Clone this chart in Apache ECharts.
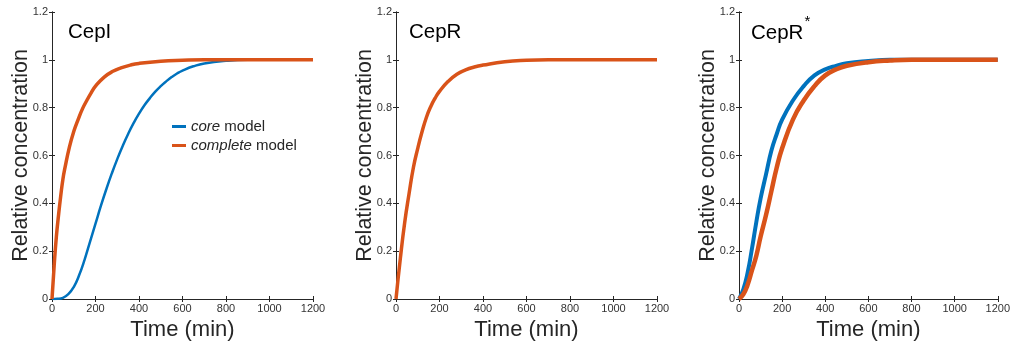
<!DOCTYPE html>
<html>
<head>
<meta charset="utf-8">
<script src="https://cdn.jsdelivr.net/npm/echarts@6/dist/echarts.min.js"></script>
<style>html,body{margin:0;padding:0;background:#fff;}#c{width:1013px;height:346px;}</style>
</head>
<body>
<div id="c"></div>
<script>
// ---- data ----
const panelTitles = ['CepI', 'CepR', 'CepR*'];
const xTicks = [0, 200, 400, 600, 800, 1000, 1200];
const yTicks = [0, 0.2, 0.4, 0.6, 0.8, 1, 1.2];

// Panel 1: CepI
const cepI_core_t = [0, 25, 50, 75, 100, 125, 150, 175, 200, 225, 250, 275, 300, 325, 350, 375, 400, 425, 450, 475, 500, 525, 550, 575, 600, 650, 700, 800, 900, 1200];
const cepI_core_v = [0, 0.001, 0.005, 0.02, 0.05, 0.10, 0.165, 0.24, 0.315, 0.39, 0.46, 0.525, 0.585, 0.64, 0.69, 0.735, 0.775, 0.81, 0.84, 0.867, 0.89, 0.91, 0.928, 0.943, 0.955, 0.973, 0.985, 0.996, 1, 1];
const cepI_complete_t = [0, 10, 20, 30, 40, 50, 60, 80, 100, 120, 140, 160, 180, 200, 240, 280, 320, 360, 400, 500, 600, 700, 1200];
const cepI_complete_v = [0, 0.14, 0.26, 0.35, 0.43, 0.50, 0.55, 0.635, 0.70, 0.75, 0.795, 0.83, 0.862, 0.89, 0.928, 0.952, 0.967, 0.978, 0.985, 0.994, 0.998, 1, 1];

// Panel 2: CepR (core and complete coincide)
const cepR_t = [0, 20, 40, 60, 80, 100, 120, 140, 160, 180, 200, 240, 280, 320, 360, 400, 500, 600, 700, 1200];
const cepR_v = [0, 0.17, 0.32, 0.44, 0.55, 0.63, 0.70, 0.76, 0.805, 0.84, 0.868, 0.91, 0.94, 0.958, 0.97, 0.978, 0.992, 0.998, 1, 1];

// Panel 3: CepR*
const cepRs_core_t = [0, 20, 40, 60, 80, 100, 125, 150, 175, 200, 250, 300, 350, 400, 450, 500, 600, 700, 1200];
const cepRs_core_v = [0, 0.04, 0.11, 0.21, 0.32, 0.42, 0.52, 0.62, 0.69, 0.75, 0.83, 0.89, 0.935, 0.96, 0.975, 0.986, 0.995, 1, 1];
const cepRs_complete_t = [0, 20, 40, 60, 80, 100, 125, 150, 175, 200, 250, 300, 350, 400, 450, 500, 600, 700, 800, 1200];
const cepRs_complete_v = [0, 0.02, 0.06, 0.12, 0.18, 0.26, 0.35, 0.45, 0.55, 0.63, 0.75, 0.83, 0.89, 0.935, 0.96, 0.975, 0.99, 0.997, 1, 1];

const legendNames = ['core', 'complete'];
// ---- end data ----

const BLUE = '#0072BD', ORANGE = '#D95319';
const AX = '#262626';
const LBL = '#333333';
const FONT = 'Liberation Sans, Arial, sans-serif';
const pairs = (t, v) => t.map((x, i) => [x, v[i]]);

const grids = [
  {left: 52, top: 12, width: 261, height: 288},
  {left: 396, top: 12, width: 261, height: 288},
  {left: 739, top: 12, width: 262, height: 288}
];

const xAxes = [], yAxes = [];
grids.forEach((g, i) => {
  xAxes.push({
    type: 'value', gridIndex: i, min: xTicks[0], max: xTicks[xTicks.length - 1], interval: xTicks[1] - xTicks[0],
    name: 'Time (min)', nameLocation: 'middle', nameGap: 20, nameMoveOverlap: false,
    nameTextStyle: {fontFamily: FONT, fontSize: 22, color: AX},
    axisLine: {show: true, lineStyle: {color: AX, width: 1}},
    axisTick: {show: true, inside: true, length: 3, lineStyle: {color: AX}},
    axisLabel: {fontFamily: FONT, fontSize: 11, color: LBL, margin: 4, formatter: v => String(v)},
    splitLine: {show: false}
  });
  xAxes.push({
    type: 'value', gridIndex: i, position: 'top', min: xTicks[0], max: xTicks[xTicks.length - 1], interval: xTicks[1] - xTicks[0],
    axisLine: {show: true, lineStyle: {color: AX, width: 1}},
    axisTick: {show: true, inside: true, length: 3, lineStyle: {color: AX}},
    axisLabel: {show: false}, splitLine: {show: false}
  });
  yAxes.push({
    type: 'value', gridIndex: i, min: yTicks[0], max: yTicks[yTicks.length - 1], interval: 0.2,
    name: 'Relative concentration', nameLocation: 'middle', nameGap: 20, nameMoveOverlap: false,
    nameTextStyle: {fontFamily: FONT, fontSize: 21.5, color: AX},
    axisLine: {show: true, lineStyle: {color: AX, width: 1}},
    axisTick: {show: true, inside: true, length: 3, lineStyle: {color: AX}},
    axisLabel: {fontFamily: FONT, fontSize: 11, color: LBL, margin: 4,
      formatter: v => (Math.abs(v - Math.round(v)) < 1e-9 ? String(Math.round(v)) : v.toFixed(1))},
    splitLine: {show: false}
  });
  yAxes.push({
    type: 'value', gridIndex: i, position: 'right', min: yTicks[0], max: yTicks[yTicks.length - 1], interval: 0.2,
    axisLine: {show: true, lineStyle: {color: AX, width: 1}},
    axisTick: {show: true, inside: true, length: 3, lineStyle: {color: AX}},
    axisLabel: {show: false}, splitLine: {show: false}
  });
});

function line(name, panel, data, color, width) {
  return {
    name: name, type: 'line', xAxisIndex: panel * 2, yAxisIndex: panel * 2,
    data: data, showSymbol: false, symbol: 'none', smooth: 0.5,
    lineStyle: {color: color, width: width}, itemStyle: {color: color},
    emphasis: {disabled: true}, animation: false
  };
}

const series = [
  line(legendNames[0], 0, pairs(cepI_core_t, cepI_core_v), BLUE, 2.5),
  line(legendNames[1], 0, pairs(cepI_complete_t, cepI_complete_v), ORANGE, 3.5),
  line('CepR', 1, pairs(cepR_t, cepR_v), ORANGE, 3.5),
  line('CepR* core', 2, pairs(cepRs_core_t, cepRs_core_v), BLUE, 4),
  line('CepR* complete', 2, pairs(cepRs_complete_t, cepRs_complete_v), ORANGE, 4.5)
];

const titleStyle = {fontFamily: FONT, fontSize: 20.5, color: '#000', fontWeight: 'normal'};
const chart = echarts.init(document.getElementById('c'), null, {renderer: 'canvas'});
chart.setOption({
  animation: false,
  backgroundColor: '#fff',
  grid: grids,
  xAxis: xAxes,
  yAxis: yAxes,
  series: series,
  title: [
    {text: panelTitles[0], left: 68, top: 22, padding: 0, textStyle: titleStyle},
    {text: panelTitles[1], left: 409, top: 22, padding: 0, textStyle: titleStyle},
    {text: '{b|CepR}{s|*}', left: 751, top: 14, padding: 0,
      textStyle: Object.assign({}, titleStyle, {rich: {
        b: {fontFamily: FONT, fontSize: 20.5, color: '#000', verticalAlign: 'bottom', lineHeight: 30},
        s: {fontFamily: FONT, fontSize: 15, color: '#000', verticalAlign: 'top', lineHeight: 30, padding: [0, 0, 12, 1]}
      }})}
  ],
  legend: {
    data: legendNames, left: 172, top: 119, padding: 0, orient: 'vertical', itemGap: 4,
    icon: 'rect', itemWidth: 14, itemHeight: 3,
    selectedMode: false,
    formatter: n => '{i|' + n + '} model',
    textStyle: {fontFamily: FONT, fontSize: 15, color: AX,
      rich: {i: {fontFamily: FONT, fontSize: 15, fontStyle: 'italic', color: AX}}}
  }
});
</script>
</body>
</html>
